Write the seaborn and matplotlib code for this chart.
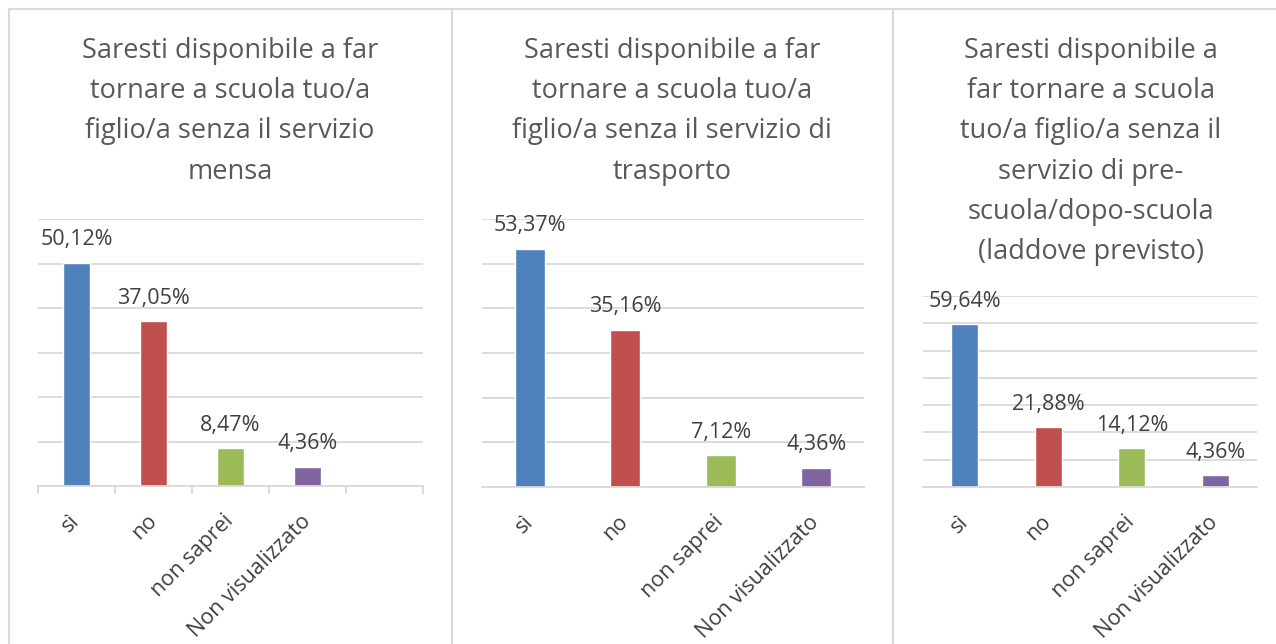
import matplotlib
matplotlib.use("Agg")
import matplotlib.pyplot as plt
from matplotlib.lines import Line2D
import seaborn as sns
import pandas as pd

# Data
categories = ["sì", "no", "non saprei", "Non visualizzato"]
mensa = [50.12, 37.05, 8.47, 4.36]
trasporto = [53.37, 35.16, 7.12, 4.36]
prescuola = [59.64, 21.88, 14.12, 4.36]

titles = [
    "Saresti disponibile a far\ntornare a scuola tuo/a\nfiglio/a senza il servizio\nmensa",
    "Saresti disponibile a far\ntornare a scuola tuo/a\nfiglio/a senza il servizio di\ntrasporto",
    "Saresti disponibile a\nfar tornare a scuola\ntuo/a figlio/a senza il\nservizio di pre-\nscuola/dopo-scuola\n(laddove previsto)",
]
colors = ["#4F81BD", "#C0504D", "#9BBB59", "#8064A2"]

sns.set_theme(style="white")
plt.rcParams["font.family"] = ["Open Sans", "DejaVu Sans"]

W, H = 1276, 644
fig = plt.figure(figsize=(W / 100, H / 100), dpi=100)

grid_col = "#D9D9D9"
text_col = "#404040"


def px_axes(x0, y_top, x1, y_bot):
    return fig.add_axes([x0 / W, 1 - y_bot / H, (x1 - x0) / W, (y_bot - y_top) / H])


panels = [
    dict(vals=mensa, box=(38, 219, 423, 486), ymax=60, nslots=5, width=0.345, ticks=True, title_x=230),
    dict(vals=trasporto, box=(482, 219, 864, 487), ymax=60, nslots=4, width=0.31, ticks=False, title_x=672),
    dict(vals=prescuola, box=(923, 296, 1257, 487), ymax=70, nslots=4, width=0.32, ticks=False, title_x=1091),
]

for p, title in zip(panels, titles):
    ax = px_axes(*p["box"])
    df = pd.DataFrame({"cat": categories, "val": p["vals"]})
    sns.barplot(data=df, x="cat", y="val", hue="cat", palette=colors,
                width=p["width"], legend=False, ax=ax, saturation=1)
    ax.set_xlim(-0.5, p["nslots"] - 0.5)
    ax.set_ylim(0, p["ymax"])
    ax.set_yticks(range(0, p["ymax"] + 1, 10))
    ax.yaxis.grid(True, color=grid_col, linewidth=1.3)
    ax.set_axisbelow(True)
    ax.tick_params(axis="y", left=False, labelleft=False)
    for s in ["top", "right", "left"]:
        ax.spines[s].set_visible(False)
    ax.spines["bottom"].set_color(grid_col)
    ax.spines["bottom"].set_linewidth(1.3)
    ax.set_xlabel("")
    ax.set_ylabel("")
    ax.set_xticks(range(len(categories)))
    ax.set_xticklabels(categories, rotation=45, ha="right", va="center",
                       rotation_mode="anchor", fontsize=15.5, color=text_col)
    ax.tick_params(axis="x", which="major", length=0, pad=23)
    if p["ticks"]:
        ax.set_xticks([i - 0.5 for i in range(p["nslots"] + 1)], minor=True)
        ax.tick_params(axis="x", which="minor", length=6, width=1.3, color=grid_col, bottom=True)
    for i, v in enumerate(p["vals"]):
        ax.annotate(f"{v:.2f}%".replace(".", ","), (i, v), xytext=(0, 9),
                    textcoords="offset points", ha="center", va="bottom",
                    fontsize=15.5, color=text_col)
    fig.text(p["title_x"] / W, 1 - 37 / H, title, ha="center", va="top",
             fontsize=19.5, color="#595959", linespacing=1.58)

# panel borders
border_kw = dict(color=grid_col, linewidth=1.5, transform=fig.transFigure)
fig.add_artist(Line2D([9 / W, 1], [1 - 9 / H, 1 - 9 / H], **border_kw))
for x in [9, 452, 893]:
    fig.add_artist(Line2D([x / W, x / W], [0, 1 - 9 / H], **border_kw))

fig.savefig("out.png", dpi=100, facecolor="white")
